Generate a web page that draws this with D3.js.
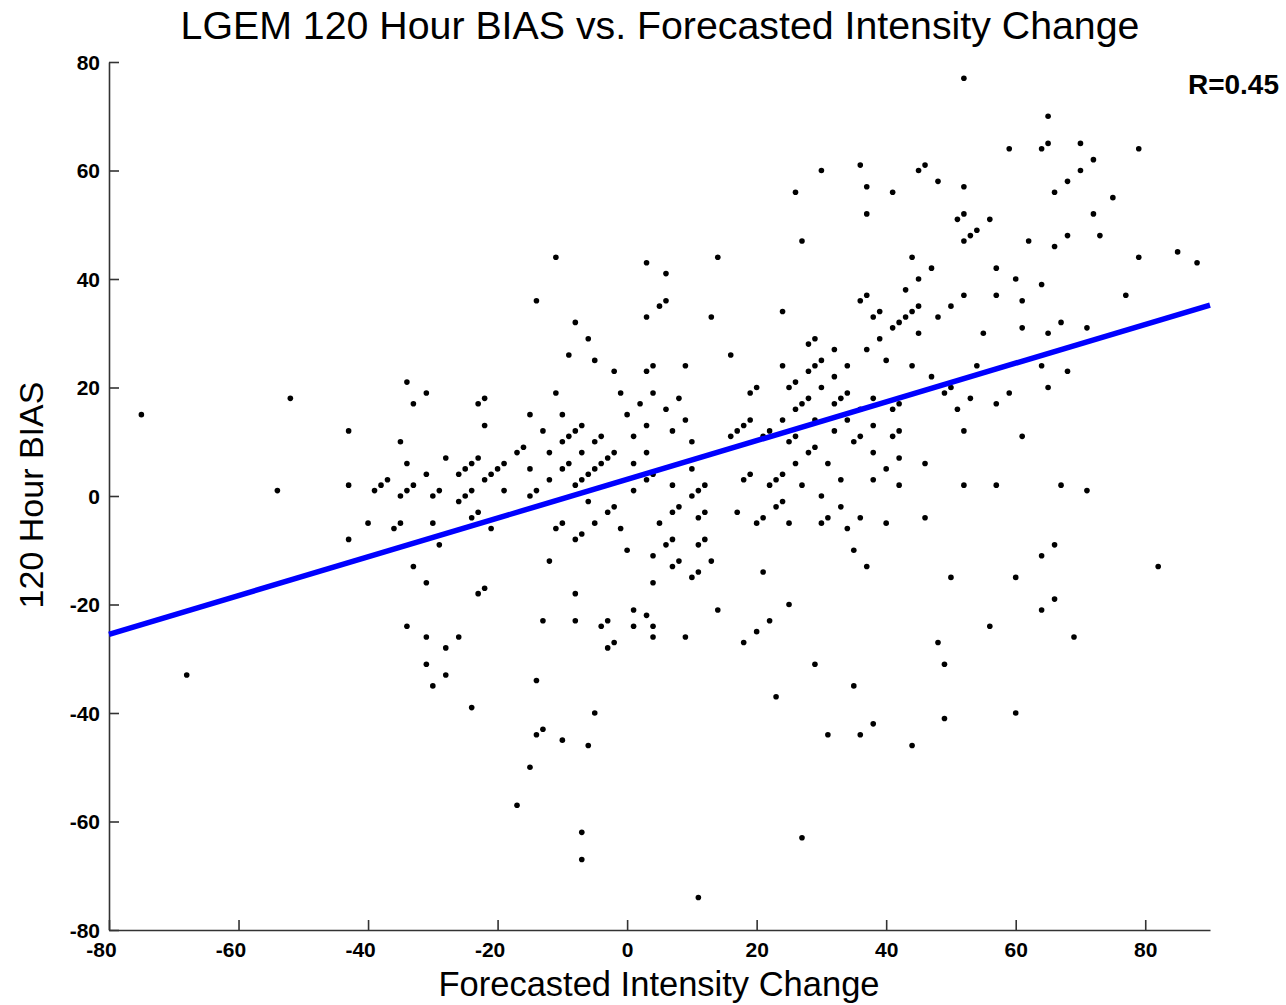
<!DOCTYPE html>
<html>
<head>
<meta charset="utf-8">
<style>
  body { margin: 0; background: #fff; }
  text { font-family: "Liberation Sans", Arial, sans-serif; fill: #000; }
</style>
<title>LGEM 120 Hour BIAS</title>
</head>
<body>
<script src="https://cdn.jsdelivr.net/npm/d3@7"></script>
<script>

// data ///////////////////////////////////////////////////////////////

// [forecasted intensity change, 120 h bias]
var points = [
  [-11,44], [-14,36], [-8,32], [-6,29], [3,43], [5,35], [3,33],
  [30,60], [36,61], [26,56], [37,57], [41,56], [45,60], [46,61], [48,58], [37,52], [27,47],
  [14,44], [6,41], [6,36], [13,33], [24,34], [44,44], [47,42], [45,40], [43,38], [36,36],
  [37,37], [45,35], [44,34], [43,33], [42,32], [41,31], [39,34], [38,33], [48,33], [45,30],
  [39,29], [29,29], [28,28], [32,27], [37,27],
  [52,77], [65,70], [59,64], [64,64], [65,65], [70,65], [79,64], [72,62], [70,60], [68,58],
  [66,56], [75,55], [52,57], [52,52], [51,51], [56,51], [72,52], [52,47], [53,48], [54,49],
  [62,47], [66,46], [68,48], [73,48], [79,44], [85,45], [88,43], [57,42], [60,40], [64,39],
  [52,37], [57,37], [61,36], [77,37], [50,35], [55,30], [61,31], [65,30], [67,32], [71,31],
  [-75,15], [-52,18], [-43,12], [-43,2], [-54,1], [-40,-5], [-43,-8], [-39,1],
  [-9,26], [-5,25], [4,24], [-2,23], [3,23], [-34,21], [-31,19], [-11,19], [-1,19], [4,19],
  [-23,17], [-22,18], [-33,17], [2,17], [-15,15], [-10,15], [0,15], [-22,13], [-7,13], [3,13],
  [-13,12], [-8,12], [-9,11], [-4,11], [1,11], [-35,10], [-10,10], [-5,10], [-17,8], [-16,9],
  [-12,8], [-7,8], [-2,8], [3,8], [-28,7], [-23,7], [-3,7], [-34,6], [-24,6], [-19,6], [-9,6],
  [-4,6], [1,6], [-25,5], [-20,5], [-15,5], [-10,5], [-5,5], [-31,4], [-26,4], [-21,4], [-6,4],
  [4,4], [-37,3], [-22,3], [-12,3], [-7,3], [3,3], [-38,2], [-33,2], [-8,2], [-34,1], [-29,1],
  [-24,1], [-19,1], [-14,1], [1,1], [-35,0], [-30,0], [-25,0], [-15,0], [-26,-1], [-6,-1],
  [-2,-2], [-3,-3], [-23,-3], [-24,-4], [-35,-5], [-36,-6], [-30,-5], [-10,-5], [-11,-6],
  [-5,-5], [-1,-6], [5,-5], [-21,-6], [-7,-7], [-8,-8], [-29,-9], [0,-10], [4,-11], [-12,-12],
  [-33,-13], [-31,-16], [4,-16], [-22,-17], [-23,-18], [-8,-18], [1,-21], [3,-22], [-13,-23],
  [-8,-23], [-3,-23], [-4,-24], [-34,-24], [1,-24], [4,-24], [-31,-26], [-26,-26], [-2,-27], [4,-26],
  [16,26], [9,24], [24,24], [28,23], [29,24], [30,25], [34,24], [40,25], [44,24], [47,22],
  [32,22], [20,20], [19,19], [25,20], [26,21], [30,20], [34,19], [33,18], [32,17], [8,18],
  [6,16], [26,16], [27,17], [28,18], [38,18], [41,16], [42,17], [9,14], [19,14], [18,13],
  [17,12], [16,11], [24,14], [29,14], [34,14], [36,16], [7,12], [10,10], [22,12], [21,11],
  [25,10], [26,11], [32,12], [35,10], [36,11], [38,13], [41,11], [42,12], [28,8], [29,9],
  [26,6], [31,6], [38,8], [42,7], [46,6], [10,5], [40,5], [7,2], [10,0], [11,1], [12,2],
  [18,3], [19,4], [22,2], [23,3], [24,4], [27,2], [33,3], [38,3], [42,2], [30,0], [7,-3],
  [8,-2], [11,-4], [12,-3], [17,-3], [23,-2], [24,-1], [33,-2], [20,-5], [21,-4], [25,-5],
  [30,-5], [31,-4], [36,-4], [40,-5], [46,-4], [34,-6], [6,-9], [7,-8], [11,-9], [12,-8],
  [35,-10], [37,-13], [7,-13], [8,-12], [10,-15], [11,-14], [13,-12], [21,-14], [14,-21],
  [25,-20], [22,-23], [20,-25], [9,-26], [18,-27], [48,-27],
  [54,24], [64,24], [68,23], [65,20], [49,19], [50,20], [53,18], [57,17], [59,19], [51,16],
  [52,12], [61,11], [52,2], [57,2], [67,2], [71,1], [66,-9], [64,-11], [82,-13], [50,-15],
  [60,-15], [66,-19], [64,-21], [56,-24], [69,-26],
  [-68,-33],
  [-28,-28], [-31,-31], [-28,-33], [-30,-35], [-24,-39], [-14,-34], [-3,-28], [-5,-40],
  [-13,-43], [-14,-44], [-10,-45], [-6,-46], [-15,-50], [-17,-57], [-7,-62], [-7,-67],
  [29,-31], [35,-35], [23,-37], [38,-42], [31,-44], [36,-44], [44,-46], [27,-63], [11,-74],
  [49,-31], [49,-41], [60,-40]
];

// least squares fit at the x limits
var fitX = [-80, 90];
var fitY = [-25.5, 35.2];
var rValue = 0.45;

var xTicks = [-80, -60, -40, -20, 0, 20, 40, 60, 80];
var yTicks = [-80, -60, -40, -20, 0, 20, 40, 60, 80];

// layout /////////////////////////////////////////////////////////////

var W = 1286, H = 1005;
var margin = {top: 62, right: 76, bottom: 75, left: 109};
var width = W - margin.left - margin.right,
    height = H - margin.top - margin.bottom;

var svg = d3.select('body').append('svg')
    .attr('width', W)
    .attr('height', H);

svg.append('rect').attr('width', W).attr('height', H).attr('fill', '#fff');

var g = svg.append('g')
    .attr('transform', `translate(${margin.left},${margin.top})`);

var x = d3.scaleLinear().domain([-80, 90]).range([0, width]);
var y = d3.scaleLinear().domain([-80, 80]).range([height, 0]);

// axes (ticks pointing inward, MATLAB style), plain hyphen for minus
var fmt = d => String(d);
var xAxis = d3.axisBottom(x).tickValues(xTicks).tickFormat(fmt)
    .tickSizeInner(-10).tickSizeOuter(0).tickPadding(12);
var yAxis = d3.axisLeft(y).tickValues(yTicks).tickFormat(fmt)
    .tickSizeInner(-10).tickSizeOuter(0).tickPadding(18);

var gx = g.append('g')
    .attr('transform', `translate(0,${height})`)
    .call(xAxis);
var gy = g.append('g').call(yAxis);

[gx, gy].forEach(a => {
  a.select('.domain').attr('stroke', '#333').attr('stroke-width', 1.6);
  a.selectAll('.tick line').attr('stroke', '#333').attr('stroke-width', 1.6);
  a.selectAll('.tick text')
    .style('font-size', '21px')
    .style('font-weight', 'bold')
    .attr('fill', '#000');
});
// minus sign hangs to the left of the centered digits
gx.selectAll('.tick text').attr('dx', d => d < 0 ? -8 : 0);
gy.selectAll('.tick text').attr('dx', 9).attr('dy', '0.35em');

// points
g.append('g').selectAll('circle')
  .data(points)
  .join('circle')
    .attr('cx', d => x(d[0]))
    .attr('cy', d => y(d[1]))
    .attr('r', 2.8)
    .attr('fill', '#000');

// regression line
g.append('path')
  .attr('d', d3.line().x(d => x(d[0])).y(d => y(d[1]))(d3.zip(fitX, fitY)))
  .attr('stroke', '#0000ff')
  .attr('stroke-width', 5.5)
  .attr('fill', 'none');

// texts
svg.append('text')
  .attr('x', 660).attr('y', 39)
  .attr('text-anchor', 'middle')
  .style('font-size', '39.3px')
  .text('LGEM 120 Hour BIAS vs. Forecasted Intensity Change');

svg.append('text')
  .attr('x', 659).attr('y', 996)
  .attr('text-anchor', 'middle')
  .style('font-size', '34.5px')
  .text('Forecasted Intensity Change');

svg.append('text')
  .attr('transform', 'translate(43,495) rotate(-90)')
  .attr('text-anchor', 'middle')
  .style('font-size', '34px')
  .text('120 Hour BIAS');

svg.append('text')
  .attr('x', 1279).attr('y', 94)
  .attr('text-anchor', 'end')
  .style('font-size', '28px')
  .style('font-weight', 'bold')
  .text('R=' + rValue.toFixed(2));

</script>
</body>
</html>
